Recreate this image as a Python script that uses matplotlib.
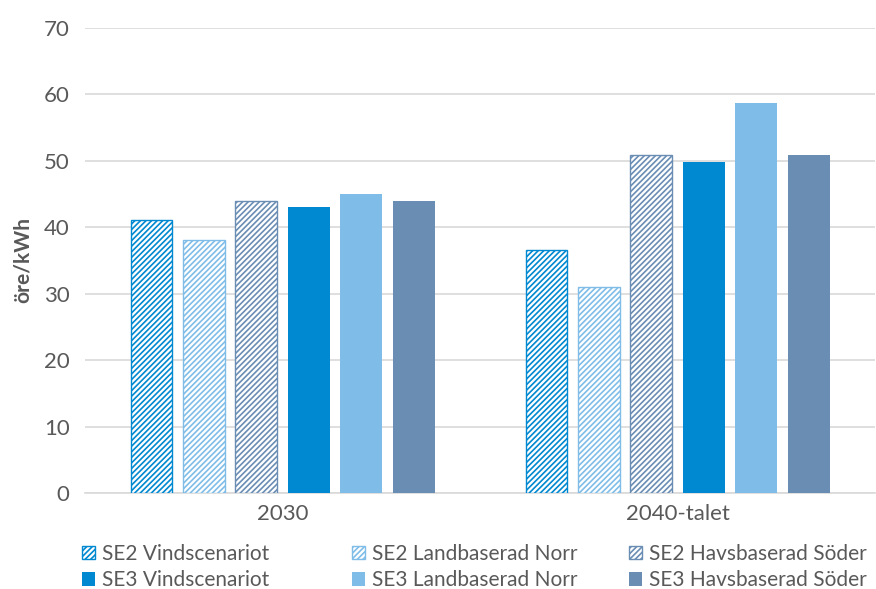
import matplotlib
matplotlib.use("Agg")
import matplotlib.pyplot as plt
import numpy as np

plt.rcParams['font.family'] = ['Lato', 'DejaVu Sans']
plt.rcParams['hatch.linewidth'] = 1.2

categories = ["2030", "2040-talet"]
series_names = [
    "SE2 Vindscenariot", "SE2 Landbaserad Norr", "SE2 Havsbaserad Söder",
    "SE3 Vindscenariot", "SE3 Landbaserad Norr", "SE3 Havsbaserad Söder",
]
se2_vind = [41.0, 36.5]
se2_land = [38.0, 31.0]
se2_havs = [44.0, 50.9]
se3_vind = [43.0, 49.8]
se3_land = [45.0, 58.7]
se3_havs = [44.0, 50.9]
y_ticks = [0, 10, 20, 30, 40, 50, 60, 70]

values = [se2_vind, se2_land, se2_havs, se3_vind, se3_land, se3_havs]
colors = ["#0088D0", "#7FBDE8", "#6A8DB4", "#0088D0", "#7FBDE8", "#6A8DB4"]
hatched = [True, True, True, False, False, False]
text_color = "#595959"

fig = plt.figure(figsize=(8.76, 5.89), dpi=100)
ax = fig.add_axes([0.097, 0.163, 0.902, 0.79])

x = np.arange(len(categories))
pitch = 0.1327
width = 0.106
handles = []
for i, (vals, col, h) in enumerate(zip(values, colors, hatched)):
    pos = x + (i - 2.5) * pitch
    if h:
        b = ax.bar(pos, vals, width, facecolor="white", edgecolor=col,
                   hatch="//////", linewidth=1.0, label=series_names[i], zorder=3)
    else:
        b = ax.bar(pos, vals, width, color=col, label=series_names[i], zorder=3)
    handles.append(b)

ax.set_xlim(-0.5, 1.5)
ax.set_ylim(0, 70)
ax.set_yticks(y_ticks)
ax.set_xticks(x)
ax.set_xticklabels(categories)
ax.tick_params(axis='y', length=0, labelsize=16, colors=text_color, pad=11)
ax.tick_params(axis='x', length=0, labelsize=16, colors=text_color, pad=8)
ax.grid(axis='y', color="#D9D9D9", linewidth=1.2, zorder=0)
for s in ["top", "right", "left"]:
    ax.spines[s].set_visible(False)
ax.spines["bottom"].set_color("#D9D9D9")
ax.spines["bottom"].set_linewidth(1.2)
ax.set_ylabel("öre/kWh", fontsize=15, fontweight="bold", color=text_color, labelpad=8)

# Legend: three columns, SE2 on the top row and SE3 below
col_x = [0.087, 0.395, 0.711]
for c, x0 in enumerate(col_x):
    fig.legend([handles[c], handles[c + 3]], [series_names[c], series_names[c + 3]],
               loc="lower left", bbox_to_anchor=(x0, -0.013), ncol=1,
               frameon=False, fontsize=15, handlelength=0.6, handleheight=0.6,
               handletextpad=0.35, labelspacing=0.3, borderpad=0.3,
               borderaxespad=0.0, labelcolor=text_color)

fig.savefig("out.png", dpi=100)
